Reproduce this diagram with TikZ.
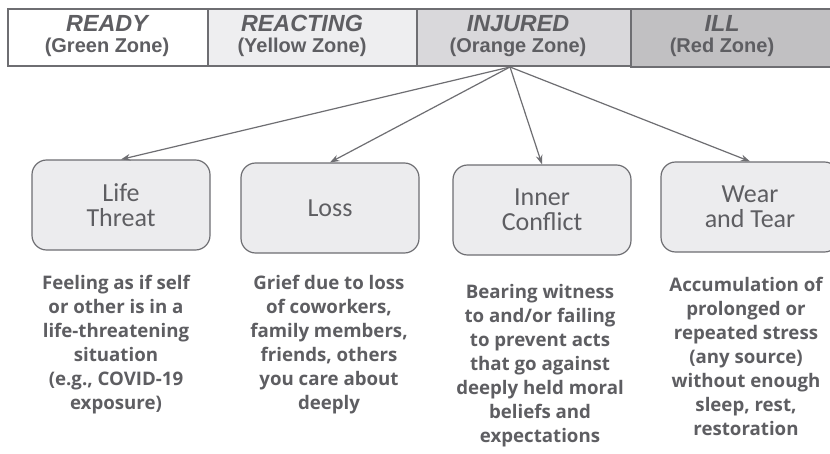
\documentclass[tikz,border=0pt]{standalone}
\usepackage{fontspec}
\setmainfont{Open Sans}
\newfontfamily\hdfont{Liberation Sans}
\newfontfamily\boxfont{Carlito}
\usetikzlibrary{arrows.meta}

\definecolor{linegray}{HTML}{6E6E72}
\definecolor{textgray}{HTML}{5E5E62}
\definecolor{reactfill}{HTML}{EEEEF0}
\definecolor{injfill}{HTML}{D9D8DB}
\definecolor{illfill}{HTML}{C1C0C2}
\definecolor{boxfill}{HTML}{ECECEE}

\tikzset{
  zoneline/.style={draw=linegray, line width=1.2pt},
  zonetext/.style={text=textgray, align=center, inner sep=0pt,
    font=\hdfont\bfseries\fontsize{15}{16}\selectfont},
  kind/.style={draw=linegray, line width=0.9pt, fill=boxfill, rounded corners=11pt,
    minimum width=133.5pt, minimum height=67.5pt, text=textgray, align=center,
    font=\boxfont\fontsize{19.5}{19}\selectfont},
  blurb/.style={text=textgray, align=center, anchor=north, inner sep=0pt,
    font=\bfseries\fontsize{14}{18}\selectfont},
  feed/.style={-{Stealth[length=7pt,width=5pt]}, line width=0.9pt, draw=linegray}
}

\newcommand{\zonehead}[2]{{\itshape\fontsize{17.5}{16}\selectfont #1}\\(#2)}

\begin{document}
\begin{tikzpicture}[x=0.75pt,y=-0.75pt]
      \clip (0,0) rectangle (830,453);
      \fill[white] (0,0) rectangle (830,453);
      \draw[zoneline] (8,9) rectangle (208,66);
      \draw[zoneline,fill=reactfill] (208,9) rectangle (417,66);
      \draw[zoneline,fill=injfill] (417,9) rectangle (631,66);
      \draw[zoneline,fill=illfill] (631,9) rectangle (850,67);
      \node[zonetext] (ready) at (107,36) {\zonehead{READY}{Green Zone}};
      \node[zonetext] (reacting) at (302,36) {\zonehead{REACTING}{Yellow Zone}};
      \node[zonetext] (injured) at (518,36) {\zonehead{INJURED}{Orange Zone}};
      \node[zonetext] (ill) at (722,36) {\zonehead{ILL}{Red Zone}};
      \coordinate (src) at (510,67);
      \node[kind] (threat) at (121,205) {Life\\Threat};
      \node[kind] (loss) at (330,208) {Loss};
      \node[kind] (conflict) at (542,210) {Inner\\Conflict};
      \node[kind] (wear) at (750,207) {Wear\\and Tear};
      \draw[feed] (src) -- (threat.north);
      \draw[feed] (src) -- (loss.north);
      \draw[feed] (src) -- (conflict.north);
      \draw[feed] (src) -- (wear.north);
      \node[blurb] (threattxt) at (116,275) {Feeling as if self\\or other is in a\\life-threatening\\situation\\(e.g., COVID-19\\exposure)};
      \node[blurb] (losstxt) at (329,275) {Grief due to loss\\of coworkers,\\family members,\\friends, others\\you care about\\deeply};
      \node[blurb] (conflicttxt) at (540,284) {Bearing witness\\to and/or failing\\to prevent acts\\that go against\\deeply held moral\\beliefs and\\expectations};
      \node[blurb] (weartxt) at (746,277) {Accumulation of\\prolonged or\\repeated stress\\(any source)\\without enough\\sleep, rest,\\restoration};
    \end{tikzpicture}
\end{document}
